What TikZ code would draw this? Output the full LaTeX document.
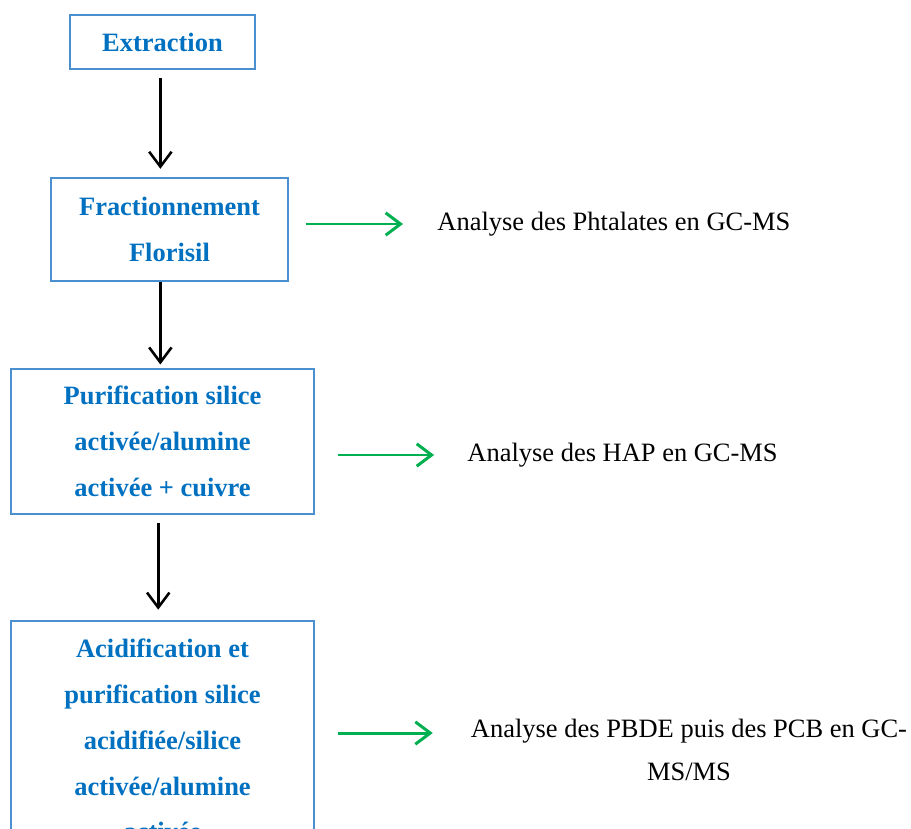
\documentclass[tikz,border=0pt]{standalone}
\usepackage{fontspec}
\setmainfont{Liberation Serif}
\usepackage{xcolor}
\usetikzlibrary{arrows.meta}
\usetikzlibrary{positioning}

\definecolor{txtblue}{HTML}{0070C0}
\definecolor{boxblue}{HTML}{4A90D0}
\definecolor{arrgreen}{HTML}{00B050}

\begin{document}
\begin{tikzpicture}[x=0.01647cm, y=-0.01647cm,
  stepbox/.style={draw=boxblue, line width=0.6pt, align=center, text=txtblue,
    font=\fontsize{12.4}{21.5}\selectfont\bfseries, inner sep=0pt},
  result/.style={align=center, inner sep=0pt, font=\fontsize{12.4}{20.5}\selectfont},
  flow/.style={line width=1.2pt, -{Straight Barb[length=7pt, width=10.5pt, line width=1.2pt]}},
  sortie/.style={arrgreen, line width=1.4pt, -{Straight Barb[length=7pt, width=10.5pt, line width=1.4pt]}}]
  \useasboundingbox (0,0) rectangle (911,829);
  \clip (0,0) rectangle (911,829);

  % etapes du protocole
  \node[stepbox, minimum width=3.047cm, minimum height=0.889cm] (extr) at (162.5,42) {Extraction};
  \node[stepbox, minimum width=3.903cm, minimum height=1.696cm] (frac) at (169.5,229.5) {Fractionnement\\Florisil};
  \node[stepbox, minimum width=4.990cm, minimum height=2.388cm] (purif) at (162.5,441.5) {Purification silice\\activée/alumine\\activée + cuivre};
  \node[stepbox, minimum width=4.990cm, minimum height=3.920cm] (acid) at (162.5,740) {Acidification et\\purification silice\\acidifiée/silice\\activée/alumine\\activée};

  % analyses
  \node[result, anchor=west] (phta) at (437,224) {Analyse des Phtalates en GC-MS};
  \node[result, anchor=west] (hap) at (467,455) {Analyse des HAP en GC-MS};
  \node[result] (pbde) at (689,750) {Analyse des PBDE puis des PCB en GC-\\MS/MS};

  \draw[flow, shorten <=4pt, shorten >=4pt] ([xshift=-1pt]extr.south -| purif.north) -- ([xshift=-1pt]frac.north -| purif.north);
  \draw[flow, shorten >=1.8pt] ([xshift=-1pt]purif.north |- frac.south) -- ([xshift=-1pt]purif.north);
  \draw[flow, shorten <=3.7pt, shorten >=5pt] ([xshift=-2pt]purif.south) -- ([xshift=-2pt]acid.north);

  \draw[sortie, shorten <=7.9pt, shorten >=15.9pt] (phta.west -| frac.east) -- (phta.west);
  \draw[sortie, shorten <=10.7pt, shorten >=15.4pt] (hap.west -| purif.east) -- (hap.west);
  \draw[sortie, shorten <=10.7pt, shorten >=17.7pt] ([yshift=0.115cm]acid.east) -- ([yshift=0.115cm]acid.east -| pbde.west);
\end{tikzpicture}
\end{document}
